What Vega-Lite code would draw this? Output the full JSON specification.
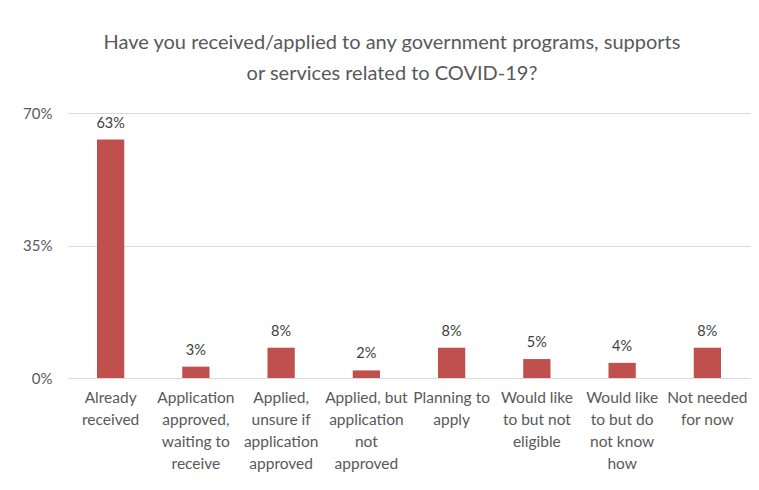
{
  "$schema": "https://vega.github.io/schema/vega-lite/v6.json",
  "width": 682,
  "height": 265,
  "autosize": "none",
  "padding": {"left": 68, "top": 113, "right": 9, "bottom": 112},
  "background": "white",
  "title": {
    "text": ["Have you received/applied to any government programs, supports", "or services related to COVID-19?"],
    "font": "Lato",
    "fontSize": 20,
    "fontWeight": "normal",
    "color": "#595959",
    "lineHeight": 31,
    "anchor": "middle",
    "frame": "group",
    "dx": -17,
    "offset": 22
  },
  "data": {
    "values": [
      {"category": "Already|received", "pct": 0.63},
      {"category": "Application|approved,|waiting to|receive", "pct": 0.03},
      {"category": "Applied,|unsure if|application|approved", "pct": 0.08},
      {"category": "Applied, but|application|not|approved", "pct": 0.02},
      {"category": "Planning to|apply", "pct": 0.08},
      {"category": "Would like|to but not|eligible", "pct": 0.05},
      {"category": "Would like|to but do|not know|how", "pct": 0.04},
      {"category": "Not needed|for now", "pct": 0.08}
    ]
  },
  "encoding": {
    "x": {
      "field": "category",
      "type": "nominal",
      "sort": null,
      "scale": {"paddingInner": 0.68, "paddingOuter": 0.34},
      "axis": {
        "title": null,
        "labelAngle": 0,
        "labelExpr": "split(datum.label, '|')",
        "labelFont": "Lato",
        "labelFontSize": 15.5,
        "labelColor": "#595959",
        "labelLineHeight": 22,
        "labelPadding": 12,
        "labelLimit": 200,
        "labelBaseline": "top",
        "domain": false,
        "ticks": false,
        "grid": false
      }
    },
    "y": {
      "field": "pct",
      "type": "quantitative",
      "scale": {"domain": [0, 0.7]},
      "axis": {
        "title": null,
        "values": [0, 0.35, 0.7],
        "format": ".0%",
        "labelFont": "Lato",
        "labelFontSize": 15,
        "labelColor": "#595959",
        "labelPadding": 16,
        "domain": false,
        "ticks": false,
        "grid": true,
        "gridColor": "#D9D9D9",
        "gridWidth": 1.2
      }
    }
  },
  "layer": [
    {"mark": {"type": "bar", "color": "#C0504D"}},
    {
      "mark": {"type": "text", "baseline": "bottom", "dy": -9, "font": "Lato", "fontSize": 14.5, "color": "#404040"},
      "encoding": {"text": {"field": "pct", "type": "quantitative", "format": ".0%"}}
    }
  ],
  "config": {"view": {"stroke": null}}
}
